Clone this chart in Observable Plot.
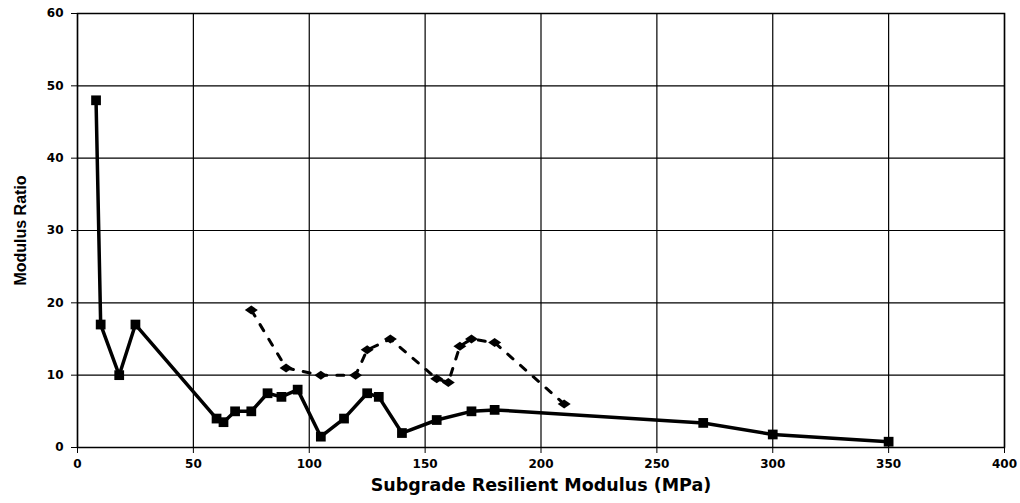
<!DOCTYPE html>
<html>
<head>
<meta charset="utf-8">
<script src="https://cdn.jsdelivr.net/npm/d3@7"></script>
<script src="https://cdn.jsdelivr.net/npm/@observablehq/plot@0.6"></script>
<style>
  body { margin: 0; background: #fff; }
  svg { font-family: "DejaVu Sans", Arial, sans-serif; }
</style>
</head>
<body>
<div id="chart"></div>
<script>
const solidX = [8, 10, 18, 25, 60, 63, 68, 75, 82, 88, 95, 105, 115, 125, 130, 140, 155, 170, 180, 270, 300, 350];
const solidY = [48, 17, 10, 17, 4, 3.5, 5, 5, 7.5, 7, 8, 1.5, 4, 7.5, 7, 2, 3.8, 5, 5.2, 3.4, 1.8, 0.8];
const dashX = [75, 90, 105, 120, 125, 135, 155, 160, 165, 170, 180, 210];
const dashY = [19, 11, 10, 10, 13.5, 15, 9.5, 9, 14, 15, 14.5, 6];
const xTicks = [0, 50, 100, 150, 200, 250, 300, 350, 400];
const yTicks = [0, 10, 20, 30, 40, 50, 60];

const solid = solidX.map((x, i) => ({x, y: solidY[i]}));
const dashed = dashX.map((x, i) => ({x, y: dashY[i]}));

// wide, flat diamond like the reference marker
const wideDiamond = {
  draw(context, size) {
    const r = Math.sqrt(size / Math.PI);
    const w = r * 1.3, h = r * 0.9;
    context.moveTo(-w, 0);
    context.lineTo(0, -h);
    context.lineTo(w, 0);
    context.lineTo(0, h);
    context.closePath();
  }
};

const chart = Plot.plot({
  width: 1020,
  height: 503,
  marginLeft: 77,
  marginRight: 16,
  marginTop: 13,
  marginBottom: 56,
  style: {fontFamily: "'DejaVu Sans', Arial, sans-serif", fontWeight: "bold", fontSize: "12px", color: "#000", background: "#fff"},
  x: {domain: [0, 400], ticks: xTicks, label: null},
  y: {domain: [0, 60], ticks: yTicks, label: null},
  marks: [
    Plot.gridX(xTicks, {stroke: "#000", strokeOpacity: 1, strokeWidth: 1.2}),
    Plot.gridY(yTicks, {stroke: "#000", strokeOpacity: 1, strokeWidth: 1.2}),
    Plot.frame({stroke: "#000", strokeWidth: 1.5}),
    Plot.axisX(xTicks, {tickSize: 6, tickPadding: 6, fontSize: 12, fontWeight: "bold", label: null}),
    Plot.axisY(yTicks, {tickSize: 6, tickPadding: 8, fontSize: 12, fontWeight: "bold", label: null}),
    Plot.line(dashed, {x: "x", y: "y", stroke: "#000", strokeWidth: 3, strokeDasharray: "7,10"}),
    Plot.dot(dashed, {x: "x", y: "y", symbol: wideDiamond, fill: "#000", r: 5}),
    Plot.line(solid, {x: "x", y: "y", stroke: "#000", strokeWidth: 3.5}),
    Plot.dot(solid, {x: "x", y: "y", symbol: "square", fill: "#000", r: 5.5}),
    Plot.text(["Subgrade Resilient Modulus (MPa)"], {frameAnchor: "bottom", dy: 43, fontSize: 17.5, fontWeight: "bold", fontFamily: "'DejaVu Sans', Arial, sans-serif", fill: "#000", text: d => d}),
    Plot.text(["Modulus Ratio"], {frameAnchor: "left", textAnchor: "middle", dx: -57, rotate: -90, fontSize: 16, fontWeight: "bold", fontFamily: "'Liberation Sans Narrow', 'Liberation Sans', Arial, sans-serif", fill: "#000", text: d => d})
  ]
});
document.getElementById("chart").appendChild(chart);
</script>
</body>
</html>
